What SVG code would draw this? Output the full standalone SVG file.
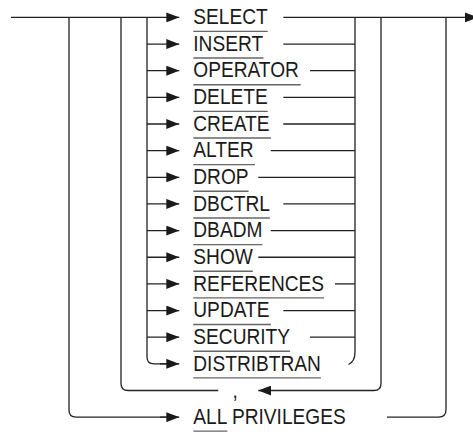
<svg xmlns="http://www.w3.org/2000/svg" width="473" height="432" viewBox="0 0 473 432">
<style>
  .c { fill: none; stroke: #222; stroke-width: 1.3; }
  .a { fill: none; stroke: #222; stroke-width: 1.3; marker-end: url(#arr); }
  .t { font-family: "Liberation Sans", Arial, sans-serif; font-size: 22px; fill: #1a1a1a; }
  .u { stroke: #666; stroke-width: 1.4; }
</style>
<defs>
  <marker id="arr" markerUnits="userSpaceOnUse" markerWidth="13" markerHeight="10" refX="13" refY="5" orient="auto">
    <path d="M0,0 L13,5 L0,10 Z" fill="#1a1a1a"/>
  </marker>
</defs>
<rect width="473" height="432" fill="#fff"/>
<g id="connectors">
  <path class="a" d="M11 17.4 H179.3"/>
  <path class="a" d="M283.3 17.4 H478"/>
  <path class="c" d="M69 17.4 V410 Q69 417.15 76 417.15 H170"/>
  <path class="a" d="M160 417.15 H179.3"/>
  <path class="c" d="M121 17.4 V383.5 Q121 390.5 128 390.5 H218.3"/>
  <path class="c" d="M147 17.4 V357 Q147 363.85 154 363.85 H170"/>
  <path class="a" d="M160 363.85 H179.3"/>
  <path class="a" d="M147 44.05 H179.3"/>
  <path class="a" d="M147 70.7 H179.3"/>
  <path class="a" d="M147 97.35 H179.3"/>
  <path class="a" d="M147 124 H179.3"/>
  <path class="a" d="M147 150.65 H179.3"/>
  <path class="a" d="M147 177.3 H179.3"/>
  <path class="a" d="M147 203.95 H179.3"/>
  <path class="a" d="M147 230.6 H179.3"/>
  <path class="a" d="M147 257.25 H179.3"/>
  <path class="a" d="M147 283.9 H179.3"/>
  <path class="a" d="M147 310.55 H179.3"/>
  <path class="a" d="M147 337.2 H179.3"/>
  <path class="c" d="M355 17.4 V352 Q355 361.5 348.5 364.5"/>
  <path class="c" d="M283.3 44.05 H355"/>
  <path class="c" d="M310 70.7 H355"/>
  <path class="c" d="M283.3 97.35 H355"/>
  <path class="c" d="M283.3 124 H355"/>
  <path class="c" d="M270.7 150.65 H355"/>
  <path class="c" d="M258.3 177.3 H355"/>
  <path class="c" d="M283.3 203.95 H355"/>
  <path class="c" d="M270.7 230.6 H355"/>
  <path class="c" d="M258.3 257.25 H355"/>
  <path class="c" d="M335 283.9 H355"/>
  <path class="c" d="M283.3 310.55 H355"/>
  <path class="c" d="M310 337.2 H355"/>
  <path class="a" d="M381 17.4 V383.5 Q381 390.5 374 390.5 H258.3"/>
  <path class="c" d="M446 17.4 V409.5 Q446 417.15 438.5 417.15 H387"/>
</g>
<g id="n-select"><text class="t" transform="matrix(.87 0 0 1 193.3 24.1)">SELECT</text><line class="u" x1="193.3" y1="31.4" x2="267.7" y2="31.4"/></g>
<g id="n-insert"><text class="t" transform="matrix(.87 0 0 1 193.3 50.75)">INSERT</text><line class="u" x1="193.3" y1="58.05" x2="263.5" y2="58.05"/></g>
<g id="n-operator"><text class="t" transform="matrix(.87 0 0 1 193.3 77.4)">OPERATOR</text><line class="u" x1="193.3" y1="84.7" x2="300.7" y2="84.7"/></g>
<g id="n-delete"><text class="t" transform="matrix(.87 0 0 1 193.3 104.05)">DELETE</text><line class="u" x1="193.3" y1="111.35" x2="267.7" y2="111.35"/></g>
<g id="n-create"><text class="t" transform="matrix(.87 0 0 1 193.3 130.7)">CREATE</text><line class="u" x1="193.3" y1="138" x2="270.9" y2="138"/></g>
<g id="n-alter"><text class="t" transform="matrix(.87 0 0 1 193.3 157.35)">ALTER</text><line class="u" x1="193.3" y1="164.65" x2="255" y2="164.65"/></g>
<g id="n-drop"><text class="t" transform="matrix(.87 0 0 1 193.3 184)">DROP</text><line class="u" x1="193.3" y1="191.3" x2="248.6" y2="191.3"/></g>
<g id="n-dbctrl"><text class="t" transform="matrix(.87 0 0 1 193.3 210.65)">DBCTRL</text><line class="u" x1="193.3" y1="217.95" x2="269.9" y2="217.95"/></g>
<g id="n-dbadm"><text class="t" transform="matrix(.87 0 0 1 193.3 237.3)">DBADM</text><line class="u" x1="193.3" y1="244.6" x2="262.4" y2="244.6"/></g>
<g id="n-show"><text class="t" transform="matrix(.87 0 0 1 193.3 263.95)">SHOW</text><line class="u" x1="193.3" y1="271.25" x2="252.8" y2="271.25"/></g>
<g id="n-references"><text class="t" transform="matrix(.87 0 0 1 193.3 290.6)">REFERENCES</text><line class="u" x1="193.3" y1="297.9" x2="324.1" y2="297.9"/></g>
<g id="n-update"><text class="t" transform="matrix(.87 0 0 1 193.3 317.25)">UPDATE</text><line class="u" x1="193.3" y1="324.55" x2="270.9" y2="324.55"/></g>
<g id="n-security"><text class="t" transform="matrix(.87 0 0 1 193.3 343.9)">SECURITY</text><line class="u" x1="193.3" y1="351.2" x2="290.1" y2="351.2"/></g>
<g id="n-distribtran"><text class="t" transform="matrix(.87 0 0 1 193.3 370.55)">DISTRIBTRAN</text><line class="u" x1="193.3" y1="377.85" x2="320.9" y2="377.85"/></g>
<g id="n-comma"><text class="t" transform="matrix(.87 0 0 1 232.5 397.5)">,</text></g>
<g id="n-allprivileges"><text class="t" transform="matrix(.87 0 0 1 193.3 423.85)">ALL PRIVILEGES</text><line class="u" x1="193.3" y1="431.15" x2="227.3" y2="431.15"/></g>
</svg>
